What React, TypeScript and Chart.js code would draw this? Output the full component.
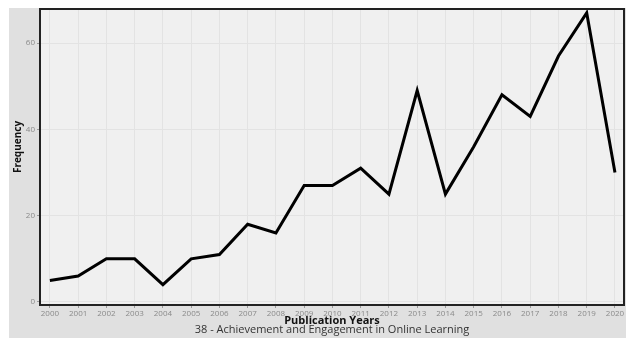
import React, { useEffect, useRef } from "react";
import { Chart, registerables } from "chart.js";

Chart.register(...registerables);

const years: number[] = [2000, 2001, 2002, 2003, 2004, 2005, 2006, 2007, 2008, 2009, 2010, 2011, 2012, 2013, 2014, 2015, 2016, 2017, 2018, 2019, 2020];
const frequency: number[] = [5, 6, 10, 10, 4, 10, 11, 18, 16, 27, 27, 31, 25, 49, 25, 36, 48, 43, 57, 67, 30];
const yTicks: number[] = [0, 20, 40, 60];
const xTitle = "Publication Years";
const yTitle = "Frequency";
const subtitle = "38 - Achievement and Engagement in Online Learning";

const FONT = "'Open Sans', 'DejaVu Sans', sans-serif";

const panelPlugin = {
  id: "panel",
  beforeDraw(chart: any) {
    const { ctx, chartArea: a } = chart;
    ctx.save();
    ctx.fillStyle = "#f0f0f0";
    ctx.fillRect(a.left, a.top, a.right - a.left, a.bottom - a.top);
    ctx.restore();
  },
  afterDraw(chart: any) {
    const { ctx, chartArea: a } = chart;
    ctx.save();
    ctx.strokeStyle = "#222";
    ctx.lineWidth = 2;
    ctx.strokeRect(a.left, a.top, a.right - a.left, a.bottom - a.top);
    const cx = (a.left + a.right) / 2;
    ctx.textAlign = "center";
    ctx.textBaseline = "middle";
    ctx.fillStyle = "#111";
    ctx.font = `bold 11px ${FONT}`;
    ctx.fillText(xTitle, cx, 313);
    ctx.fillStyle = "#333";
    ctx.font = `11px ${FONT}`;
    ctx.fillText(subtitle, cx, 322);
    ctx.translate(9, 139);
    ctx.rotate(-Math.PI / 2);
    ctx.fillStyle = "#111";
    ctx.font = `bold 10px ${FONT}`;
    ctx.fillText(yTitle, 0, 0);
    ctx.restore();
  },
};

export default function App() {
  const ref = useRef<HTMLCanvasElement | null>(null);
  useEffect(() => {
    if (!ref.current) return;
    const chart = new Chart(ref.current, {
      type: "line",
      data: {
        datasets: [
          {
            data: years.map((y, i) => ({ x: y, y: frequency[i] })),
            borderColor: "#000",
            borderWidth: 3,
            pointRadius: 0,
            tension: 0,
            fill: false,
          },
        ],
      },
      options: {
        animation: false,
        responsive: false,
        maintainAspectRatio: false,
        layout: { padding: { top: 1, right: 3, left: 0, bottom: 0 } },
        plugins: { legend: { display: false }, tooltip: { enabled: false } },
        scales: {
          x: {
            type: "linear",
            min: 1999.65,
            max: 2020.32,
            afterBuildTicks: (s: any) => {
              s.ticks = years.map((v) => ({ value: v }));
            },
            afterFit: (s: any) => {
              s.height = 33;
              s.paddingLeft = 0;
              s.paddingRight = 0;
            },
            grid: { color: "#e3e3e3", lineWidth: 1, tickLength: 3, tickColor: "#999" },
            border: { display: false },
            ticks: {
              autoSkip: false,
              maxRotation: 0,
              padding: 1,
              color: "#8a8a8a",
              font: { size: 8, family: FONT },
              callback: (v: any) => String(v),
            },
          },
          y: {
            type: "linear",
            min: -0.7,
            max: 67.9,
            afterBuildTicks: (s: any) => {
              s.ticks = yTicks.map((v) => ({ value: v }));
            },
            afterFit: (s: any) => {
              s.width = 31;
              s.paddingTop = 0;
              s.paddingBottom = 0;
            },
            grid: { color: "#e3e3e3", lineWidth: 1, tickLength: 3, tickColor: "#999" },
            border: { display: false },
            ticks: {
              padding: 2,
              color: "#8a8a8a",
              font: { size: 8, family: FONT },
            },
          },
        },
      },
      plugins: [panelPlugin],
    });
    return () => chart.destroy();
  }, []);
  return (
    <div
      style={{
        marginLeft: 1,
        width: 618,
        height: 330,
        background: "#e0e0e0",
        borderRight: "1px solid #c9d9ea",
      }}
    >
      <canvas ref={ref} width={618} height={330} style={{ display: "block" }} />
    </div>
  );
}
